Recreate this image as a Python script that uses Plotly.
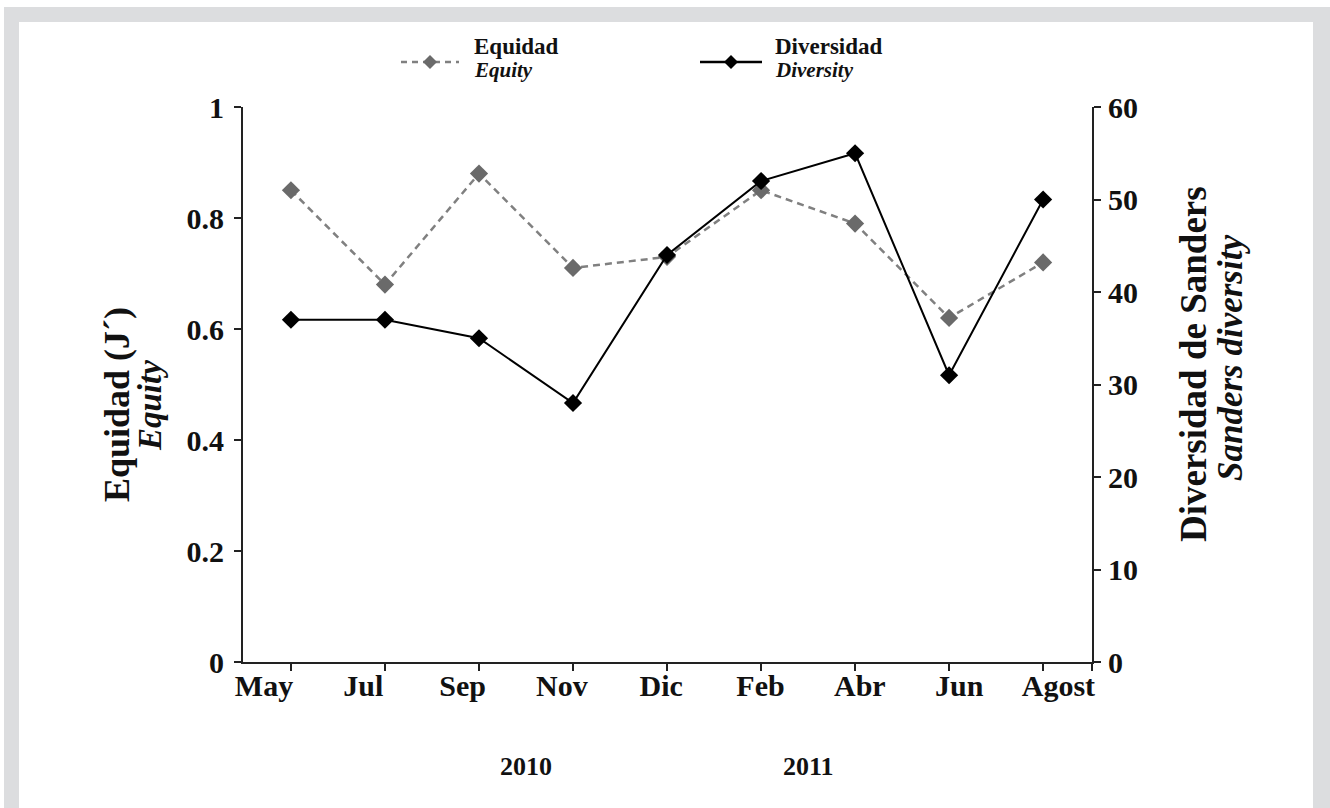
import plotly.graph_objects as go

# Sampling months (2010-2011) and the two measured indices
months = ["May", "Jul", "Sep", "Nov", "Dic", "Feb", "Abr", "Jun", "Agost"]
years = ["2010", "2011"]
year_centers = [2.5, 5.5]
equidad = [0.85, 0.68, 0.88, 0.71, 0.73, 0.85, 0.79, 0.62, 0.72]
diversidad = [37, 37, 35, 28, 44, 52, 55, 31, 50]
equidad_ticks = [0, 0.2, 0.4, 0.6, 0.8, 1]
equidad_ticktext = ["0", "0.2", "0.4", "0.6", "0.8", "1"]
diversidad_ticks = [0, 10, 20, 30, 40, 50, 60]

W, H = 1330, 808
L, R, T, B = 243, 1092, 107, 662
FONT = "Liberation Serif"
FRAME = "#dcdddf"
GRAY_LINE = "#808080"
GRAY_MARK = "#6a6a6a"
INK = "#111111"


def px(x):
    return (x - L) / (R - L)


def py(y):
    return (B - y) / (B - T)


xs = list(range(len(months)))
x_range = [-0.51, 8.52]

fig = go.Figure()
fig.add_trace(go.Scatter(
    x=xs, y=equidad, name="Equidad", mode="lines+markers",
    line=dict(color=GRAY_LINE, width=2.5, dash="7px,5px"),
    marker=dict(symbol="diamond", size=14, color=GRAY_MARK),
    showlegend=False, cliponaxis=False,
))
fig.add_trace(go.Scatter(
    x=xs, y=diversidad, name="Diversidad", mode="lines+markers", yaxis="y2",
    line=dict(color="black", width=2),
    marker=dict(symbol="diamond", size=14, color="black"),
    showlegend=False, cliponaxis=False,
))
# carrier for the month-name axis (draws nothing itself)
fig.add_trace(go.Scatter(
    x=xs, y=equidad, xaxis="x2", mode="none", hoverinfo="skip", showlegend=False,
))

shapes = []
# grey frame around the panel
for x0, y0, x1, y1 in [(4, 7, 19, H), (4, 7, W, 22), (1313, 7, W, H)]:
    shapes.append(dict(type="rect", xref="paper", yref="paper",
                       x0=px(x0), x1=px(x1), y0=py(y0), y1=py(y1),
                       fillcolor=FRAME, line=dict(width=0), layer="below"))


# legend keys: a short line with a diamond in its middle
def legend_key(x0, x1, yc, color, mcolor, dash):
    shapes.append(dict(type="line", xref="paper", yref="paper",
                       x0=px(x0), x1=px(x1), y0=py(yc), y1=py(yc),
                       line=dict(color=color, width=2.5, dash=dash)))
    xm = (x0 + x1) / 2
    shapes.append(dict(type="path", xref="paper", yref="paper",
                       xsizemode="pixel", ysizemode="pixel",
                       xanchor=px(xm), yanchor=py(yc),
                       path="M0,7 L7,0 L0,-7 L-7,0 Z",
                       fillcolor=mcolor, line=dict(width=0)))


legend_key(401, 459, 62, GRAY_LINE, GRAY_MARK, "6px,5px")
legend_key(700, 762, 62, "black", "black", "solid")

annotations = []


def text(x, y, s, size, angle=0, xanchor="center", xref="paper"):
    annotations.append(dict(
        x=x if xref != "paper" else px(x), y=py(y), xref=xref, yref="paper",
        text=s, showarrow=False, textangle=angle, xanchor=xanchor, yanchor="middle",
        font=dict(family=FONT, size=size, color=INK)))


text(472, 46, "<b>Equidad</b>", 23, xanchor="left")
text(472, 70, "<b><i>Equity</i></b>", 21, xanchor="left")
text(773, 46, "<b>Diversidad</b>", 23, xanchor="left")
text(773, 70, "<b><i>Diversity</i></b>", 21, xanchor="left")

# axis titles
text(117, 405, "<b>Equidad (J´)</b>", 36, angle=-90)
text(150, 406, "<b><i>Equity</i></b>", 33, angle=-90)
text(1193, 364, "<b>Diversidad de Sanders</b>", 37, angle=-90)
text(1230, 358, "<b><i>Sanders diversity</i></b>", 35, angle=-90)

# year labels under the month axis
for yr, c in zip(years, year_centers):
    text(c, 766, "<b>" + yr + "</b>", 26, xref="x")

axis_common = dict(showgrid=False, zeroline=False, showline=True,
                   linecolor="#222222", linewidth=2, ticks="outside",
                   ticklen=7, tickwidth=2, tickcolor="#222222")

fig.update_layout(
    width=W, height=H,
    margin=dict(l=L, r=W - R, t=T, b=H - B),
    paper_bgcolor="white", plot_bgcolor="white",
    font=dict(family=FONT, color=INK),
    shapes=shapes, annotations=annotations,
    # tick marks at each sampling month and at the right end of the axis
    xaxis=dict(range=x_range, tickvals=xs + [x_range[1]], showticklabels=False,
               **axis_common),
    # month names, spread a little wider than the tick marks
    xaxis2=dict(range=[-0.2115, 8.338], tickvals=xs,
                ticktext=["<b>" + m + "</b>" for m in months],
                overlaying="x", anchor="y", side="bottom",
                showgrid=False, zeroline=False, showline=False, ticks="",
                ticklabelstandoff=3,
                tickfont=dict(family=FONT, size=30, color=INK)),
    yaxis=dict(
        range=[0, 1], tickvals=equidad_ticks,
        ticktext=["<b>" + t + "</b>" for t in equidad_ticktext],
        tickfont=dict(family=FONT, size=30, color=INK), ticklabelstandoff=4,
        **axis_common,
    ),
    yaxis2=dict(
        range=[0, 60], tickvals=diversidad_ticks,
        ticktext=["<b>" + str(t) + "</b>" for t in diversidad_ticks],
        overlaying="y", side="right",
        tickfont=dict(family=FONT, size=30, color=INK), ticklabelstandoff=1,
        **axis_common,
    ),
)

fig.write_html("out.html")
